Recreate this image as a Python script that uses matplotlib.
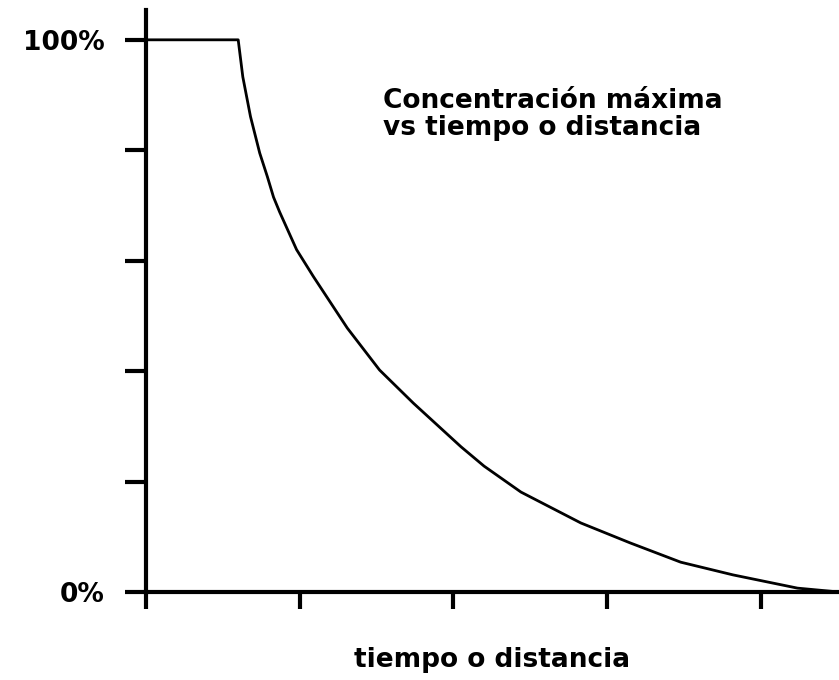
import matplotlib.pyplot as plt

# curve (x in tick units, y in %)
x = [0.0, 0.60, 0.63, 0.68, 0.74, 0.79, 0.83, 0.87, 0.98, 1.09, 1.31, 1.52,
     1.74, 2.05, 2.20, 2.44, 2.83, 3.15, 3.48, 3.82, 4.24, 4.51]
y = [100, 100, 93.3, 86.1, 79.5, 75.2, 71.5, 68.8, 62.0, 57.1, 47.8, 40.2,
     34.2, 26.3, 22.8, 18.1, 12.5, 8.9, 5.4, 3.1, 0.7, 0]
x_ticks = [0, 1, 2, 3, 4]
y_ticks = [0, 20, 40, 60, 80, 100]
y_labels = ['0%', '', '', '', '', '100%']

fig = plt.figure(figsize=(8.39, 6.8), dpi=100)
ax = fig.add_axes([146/839, 88/680, 1 - 146/839, (592 - 10)/680])

ax.plot(x, y, color='black', lw=2, solid_joinstyle='round', clip_on=False)

ax.set_xlim(0, 4.51)
ax.set_ylim(0, 105.4)
for s in ['top', 'right']:
    ax.spines[s].set_visible(False)
for s in ['left', 'bottom']:
    ax.spines[s].set_linewidth(3)

ax.set_xticks(x_ticks)
ax.set_xticklabels([])
ax.set_yticks(y_ticks)
ax.set_yticklabels(y_labels, fontsize=19, fontweight='bold', family='DejaVu Sans')
ax.tick_params(axis='x', direction='out', length=12, width=3)
ax.tick_params(axis='y', direction='out', length=15, width=3, pad=15)

ax.set_xlabel('tiempo o distancia', fontsize=19, fontweight='bold', labelpad=24)
ax.text(1.54, 86.5, 'Concentración máxima\nvs tiempo o distancia', fontsize=19,
        fontweight='bold', ha='left', va='center', linespacing=1.05)

plt.savefig('out.png', dpi=100)
